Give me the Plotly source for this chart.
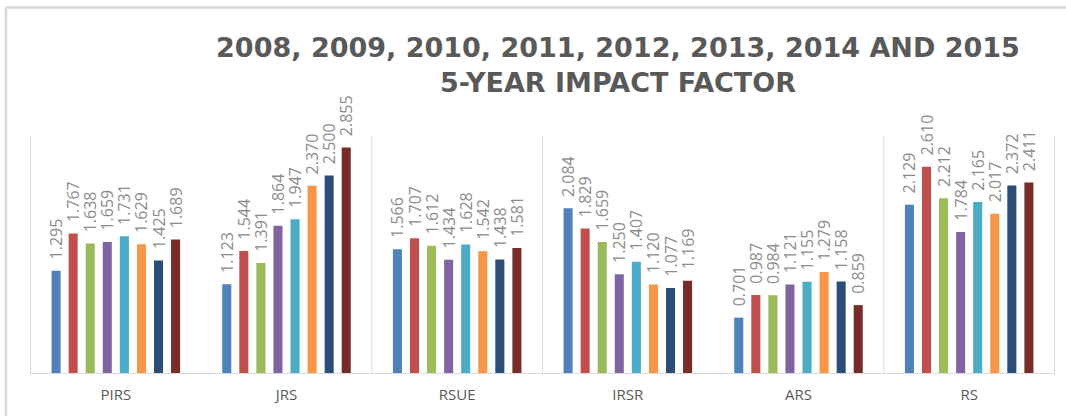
import plotly.graph_objects as go

journals = ['PIRS', 'JRS', 'RSUE', 'IRSR', 'ARS', 'RS']
years = ['2008', '2009', '2010', '2011', '2012', '2013', '2014', '2015']

if_2008 = [1.295, 1.123, 1.566, 2.084, 0.701, 2.129]
if_2009 = [1.767, 1.544, 1.707, 1.829, 0.987, 2.610]
if_2010 = [1.638, 1.391, 1.612, 1.659, 0.984, 2.212]
if_2011 = [1.659, 1.864, 1.434, 1.250, 1.121, 1.784]
if_2012 = [1.731, 1.947, 1.628, 1.407, 1.155, 2.165]
if_2013 = [1.629, 2.370, 1.542, 1.120, 1.279, 2.017]
if_2014 = [1.425, 2.500, 1.438, 1.077, 1.158, 2.372]
if_2015 = [1.689, 2.855, 1.581, 1.169, 0.859, 2.411]

series = [if_2008, if_2009, if_2010, if_2011, if_2012, if_2013, if_2014, if_2015]
colors = ['#4F81BD', '#C0504D', '#9BBB59', '#8064A2',
          '#4BACC6', '#F79646', '#2C4D75', '#772C2A']

W, H = 1066, 416
ML, MR, MT, MB = 30, 11, 136, 43
pw, ph = W - ML - MR, H - MT - MB
gridColor = '#d9d9d9'

fig = go.Figure()
for year, vals, col in zip(years, series, colors):
    fig.add_trace(go.Bar(
        name=year,
        x=journals,
        y=vals,
        marker_color=col,
        marker_line_width=0,
        # leading no-break spaces lift the rotated label off the bar a bit
        text=['\u00a0\u00a0' + f'{v:.3f}' for v in vals],
        textposition='outside',
        textangle=-90,
        constraintext='none',
        cliponaxis=False,
        textfont=dict(family='Open Sans', size=16, color='#8c8c8c'),
    ))


def px_x(p):
    return (p - ML) / pw


def px_y(p):
    return (H - MB - p) / ph


shapes = []
# vertical separators between some category groups
for xb in [-0.5, 1.5, 2.5, 4.5, 5.5]:
    shapes.append(dict(type='line', xref='x', yref='paper', x0=xb, x1=xb,
                       y0=0, y1=1, line=dict(color=gridColor, width=1)))
# outer chart frame (top and left edges)
shapes.append(dict(type='line', xref='paper', yref='paper',
                   x0=px_x(6), x1=px_x(W + 5), y0=px_y(7.5), y1=px_y(7.5),
                   line=dict(color=gridColor, width=2.5)))
shapes.append(dict(type='line', xref='paper', yref='paper',
                   x0=px_x(6), x1=px_x(6), y0=px_y(7.5), y1=px_y(H + 5),
                   line=dict(color=gridColor, width=2.5)))

fig.update_layout(
    width=W, height=H,
    margin=dict(l=ML, r=MR, t=MT, b=MB),
    paper_bgcolor='white', plot_bgcolor='white',
    showlegend=False,
    barmode='group',
    bargap=0.2,
    bargroupgap=0.47,
    title=dict(
        text='2008, 2009, 2010, 2011, 2012, 2013, 2014 AND 2015<br>5-YEAR IMPACT FACTOR',
        font=dict(family='DejaVu Sans', size=27, color='#595959', weight='bold'),
        x=px_x(618), xref='paper', xanchor='center',
        y=1 - 57 / H, yref='container', yanchor='top',
    ),
    shapes=shapes,
)
fig.update_xaxes(
    showline=True, linecolor=gridColor, linewidth=1,
    showgrid=False, ticks='',
    tickfont=dict(family='Open Sans', size=15, color='#595959'),
    ticklabelstandoff=8,
)
fig.update_yaxes(range=[0, 3.0], visible=False)

fig.write_html('out.html', config={'displayModeBar': False},
               post_script="document.body.style.margin='0';")
